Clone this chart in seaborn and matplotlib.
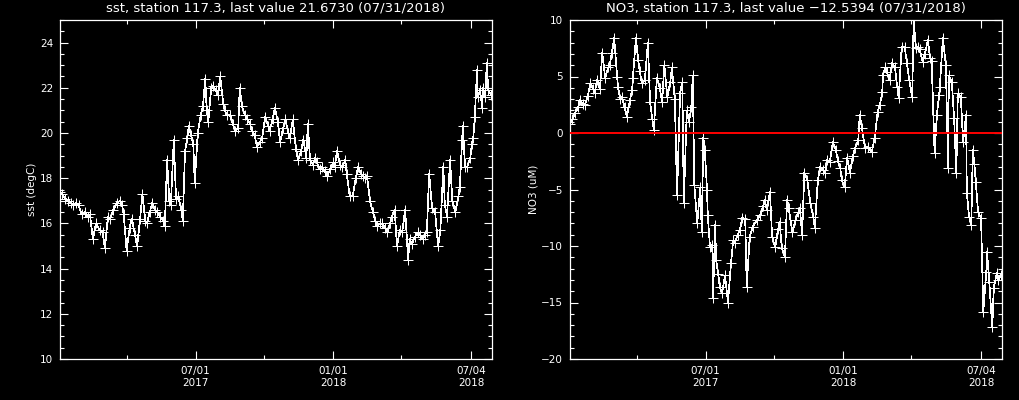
import pandas as pd
import numpy as np
import matplotlib
matplotlib.use("Agg")
import matplotlib.pyplot as plt
import matplotlib.dates as mdates
from matplotlib.ticker import FixedLocator, MultipleLocator
import seaborn as sns

# Sample days counted from 2017-01-01
START = "2017-01-01"

sst_days = [0, 3, 7, 11, 15, 17, 21, 25, 29, 33, 37, 40, 44, 48, 53, 57, 60, 64, 67, 71,
            76, 80, 83, 85, 89, 93, 96, 100, 103, 107, 110, 114, 116, 120, 123, 127, 130, 134, 138, 140,
            143, 146, 148, 152, 155, 158, 162, 164, 167, 170, 172, 175, 178, 180, 184, 188, 191, 194, 196, 198,
            202, 204, 208, 211, 214, 218, 220, 223, 227, 231, 234, 238, 240, 243, 247, 250, 254, 256, 260, 263,
            267, 270, 274, 278, 280, 284, 287, 291, 294, 298, 301, 305, 307, 311, 315, 318, 322, 325, 329, 331,
            334, 338, 341, 343, 347, 350, 354, 357, 361, 365, 367, 370, 374, 377, 381, 383, 387, 391, 395, 398,
            402, 405, 407, 410, 414, 418, 421, 423, 427, 430, 434, 437, 441, 443, 447, 450, 454, 457, 461, 465,
            467, 470, 474, 478, 481, 485, 487, 490, 493, 497, 501, 505, 508, 512, 514, 517, 521, 524, 528, 532,
            534, 537, 538, 541, 544, 548, 550, 552, 554, 557, 558, 561, 564, 565, 568, 570, 572, 576]
sst_vals = [17.4, 17.3, 17.1, 17.0, 16.9, 16.8, 16.9, 16.8, 16.4, 16.5, 16.3, 16.4, 15.3, 16.0, 15.7, 15.6, 14.9, 16.3, 16.2, 16.6,
            16.9, 17.0, 16.8, 16.4, 14.8, 15.8, 16.2, 15.5, 15.0, 16.2, 17.3, 16.1, 16.0, 16.5, 16.9, 16.6, 16.5, 16.3, 16.1, 15.9,
            18.8, 17.0, 16.8, 19.7, 17.1, 17.2, 16.6, 16.1, 19.2, 19.8, 20.3, 19.9, 19.5, 17.8, 20.0, 20.8, 21.2, 22.4, 21.0, 20.5,
            22.0, 22.1, 21.9, 21.7, 22.5, 21.3, 21.0, 20.8, 20.8, 20.4, 20.1, 20.2, 22.0, 21.2, 20.8, 20.6, 20.4, 20.1, 19.9, 19.4,
            19.6, 19.8, 20.7, 20.3, 20.1, 20.6, 21.1, 20.5, 19.6, 20.2, 20.6, 20.0, 19.8, 20.6, 19.3, 18.8, 19.2, 19.7, 18.9, 20.4,
            18.8, 18.6, 18.9, 18.7, 18.4, 18.5, 18.3, 18.1, 18.4, 18.7, 18.5, 19.2, 18.6, 18.5, 18.8, 18.2, 17.2, 17.2, 18.0, 18.5,
            18.2, 18.1, 18.0, 18.1, 17.0, 16.5, 16.1, 15.9, 16.0, 16.0, 15.8, 15.6, 16.0, 16.3, 16.6, 15.0, 15.7, 15.6, 16.6, 14.4,
            15.3, 15.1, 15.4, 15.6, 15.5, 15.3, 15.5, 15.6, 18.2, 16.7, 16.5, 15.0, 15.7, 18.5, 16.8, 16.3, 18.8, 17.0, 16.5, 17.2,
            17.6, 19.7, 20.3, 18.5, 18.5, 18.9, 19.5, 19.8, 20.7, 22.8, 21.6, 21.9, 21.1, 22.0, 21.6, 23.1, 21.9, 21.673]

no3_days = [0, 3, 7, 11, 13, 17, 20, 24, 27, 31, 33, 36, 40, 43, 47, 51, 53, 56, 59, 63,
            64, 67, 69, 73, 76, 80, 83, 84, 88, 91, 93, 96, 100, 104, 107, 110, 112, 116, 120, 123,
            126, 130, 134, 136, 140, 143, 147, 150, 152, 156, 159, 162, 164, 166, 170, 174, 176, 178, 180, 183,
            184, 187, 190, 191, 194, 195, 198, 200, 203, 207, 211, 215, 218, 220, 224, 227, 230, 234, 236, 240,
            244, 250, 254, 258, 260, 263, 267, 270, 274, 278, 280, 283, 287, 290, 292, 297, 301, 305, 307, 310,
            313, 317, 321, 325, 327, 331, 334, 338, 341, 343, 347, 351, 355, 358, 361, 363, 367, 370, 374, 378,
            381, 385, 387, 390, 394, 398, 403, 407, 411, 414, 417, 418, 421, 423, 427, 430, 434, 437, 439, 443,
            447, 450, 453, 457, 459, 462, 465, 467, 471, 474, 478, 481, 483, 487, 490, 493, 494, 498, 502, 505,
            506, 510, 513, 516, 518, 522, 525, 529, 530, 533, 536, 538, 540, 542, 545, 549, 552, 556, 557, 560,
            564, 566, 570, 572, 576]
no3_vals = [0.8, 1.2, 1.8, 2.3, 2.9, 2.6, 2.5, 3.3, 4.4, 3.9, 3.5, 4.7, 3.9, 7.1, 4.9, 5.8, 6.0, 7.1, 8.4, 5.0,
            4.1, 3.0, 3.2, 2.3, 1.4, 2.9, 3.8, 4.9, 8.4, 6.5, 5.5, 4.4, 4.7, 8.0, 2.7, 1.2, 0.3, 4.9, 4.0, 2.7,
            6.0, 3.2, 4.5, 5.8, 3.0, -5.5, 3.5, 4.5, -6.2, 2.0, 1.0, 2.3, 5.1, -4.6, -8.0, -4.8, -8.8, -0.4, -1.5, -5.0,
            -7.3, -10.1, -9.9, -14.6, -8.1, -11.2, -12.5, -13.6, -14.2, -12.6, -15.0, -11.5, -9.5, -9.7, -9.0, -8.6, -7.5, -7.6, -13.6, -9.2,
            -8.3, -7.7, -7.3, -6.5, -5.9, -6.8, -5.2, -9.2, -10.1, -8.5, -7.9, -10.2, -11.0, -5.9, -6.6, -8.8, -7.7, -7.0, -6.6, -9.0,
            -3.5, -4.2, -6.2, -7.4, -8.4, -4.2, -3.0, -3.3, -3.5, -2.4, -2.6, -0.8, -1.5, -2.5, -3.1, -4.2, -4.8, -2.2, -3.5, -2.0,
            -1.3, -0.6, 1.6, 0.4, -1.3, -1.2, -1.7, -0.4, 1.9, 2.5, 3.6, 5.1, 5.8, 5.4, 4.7, 6.2, 5.8, 4.1, 3.1, 7.6,
            7.6, 6.2, 4.7, 3.2, 10.0, 7.5, 7.6, 7.4, 6.3, 7.0, 8.2, 6.6, 6.4, -1.8, 1.6, 3.4, 4.1, 8.4, 6.0, -3.1,
            5.1, 4.5, 1.3, -3.5, 3.5, 3.2, -0.8, 1.6, -5.3, -7.4, -8.1, -1.5, -2.7, -4.3, -7.0, -7.5, -15.8, -12.3, -10.5, -13.2,
            -17.2, -13.7, -12.4, -13.0, -12.5394]

major_dates = ["2017-07-01", "2018-01-01", "2018-07-04"]
minor_dates = ["2017-04-01", "2017-10-01", "2018-04-02"]
x_range = ["2017-01-01", "2018-08-01"]

panels = [
    dict(days=sst_days, vals=sst_vals, name="sst", unit="sst (degC)", last="21.6730",
         ylim=(10, 25), major=2, minor=0.5, zero=False),
    dict(days=no3_days, vals=no3_vals, name="NO3", unit="NO3 (uM)", last="\u221212.5394",
         ylim=(-20, 10), major=5, minor=1, zero=True),
]

sns.set_style("ticks")
plt.rcParams.update({
    "figure.facecolor": "black", "axes.facecolor": "black", "savefig.facecolor": "black",
    "axes.edgecolor": "white", "text.color": "white", "axes.labelcolor": "white",
    "xtick.color": "white", "ytick.color": "white",
    "xtick.direction": "in", "ytick.direction": "in",
    "xtick.top": True, "ytick.right": True,
    "font.family": ["DejaVu Sans"],
})

fig = plt.figure(figsize=(10.2, 4.0), dpi=100)
lefts = [60 / 1020, 570 / 1020]

for left, p in zip(lefts, panels):
    ax = fig.add_axes([left, 41 / 400, 432 / 1020, 339 / 400])
    df = pd.DataFrame({
        "date": pd.Timestamp(START) + pd.to_timedelta(p["days"], unit="D"),
        "value": p["vals"],
    })
    sns.lineplot(data=df, x="date", y="value", ax=ax, color="white", linewidth=0.5,
                 marker="+", markersize=7.5, markeredgewidth=0.72, markeredgecolor="white",
                 estimator=None, sort=False, antialiased=False)
    if p["zero"]:
        ax.axhline(0, color="red", linewidth=1.4, zorder=3)

    ax.set_xlim(pd.to_datetime(x_range[0]), pd.to_datetime(x_range[1]))
    ax.set_ylim(*p["ylim"])
    ax.xaxis.set_major_locator(FixedLocator(mdates.date2num(pd.to_datetime(major_dates))))
    ax.xaxis.set_minor_locator(FixedLocator(mdates.date2num(pd.to_datetime(minor_dates))))
    ax.xaxis.set_major_formatter(mdates.DateFormatter("%m/%d\n%Y"))
    ax.yaxis.set_major_locator(MultipleLocator(p["major"]))
    ax.yaxis.set_minor_locator(MultipleLocator(p["minor"]))
    ax.tick_params(which="major", length=6, width=0.8, labelsize=7.5, pad=5)
    ax.tick_params(which="minor", length=3, width=0.8, top=True, right=True)
    ax.tick_params(axis="y", labelright=False)
    for s in ax.spines.values():
        s.set_linewidth(0.9)
        s.set_color("white")
    ax.set_xlabel("")
    ax.set_ylabel(p["unit"], fontsize=7.5, labelpad=2)
    ax.set_title(f"{p['name']}, station 117.3, last value {p['last']} (07/31/2018)",
                 fontsize=9.5, pad=6)

fig.savefig("out.png", dpi=100, facecolor="black")
